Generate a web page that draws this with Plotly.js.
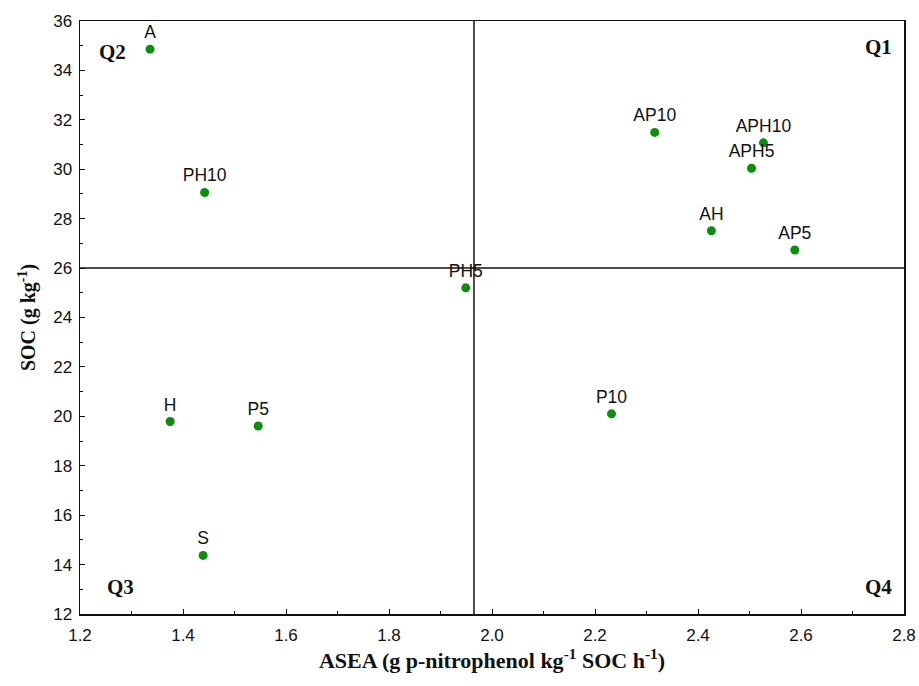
<!DOCTYPE html>
<html><head><meta charset="utf-8">
<script src="https://cdn.plot.ly/plotly-3.0.1.min.js"></script>
<style>body{margin:0;background:#fff}#chart{width:919px;height:686px}</style>
</head><body><div id="chart"></div>
<script>
const labels = ["A","PH10","AP10","APH10","APH5","AH","AP5","PH5","P10","H","P5","S"];
const asea   = [1.336,1.442,2.316,2.527,2.504,2.426,2.588,1.949,2.232,1.375,1.546,1.439];
const soc    = [34.86,29.06,31.49,31.07,30.04,27.51,26.73,25.20,20.10,19.79,19.61,14.37];
const dividerX = 1.965;
const dividerY = 26;
const quadrants = [
  {text:"Q1", x:2.75, y:34.95},
  {text:"Q2", x:1.263, y:34.75},
  {text:"Q3", x:1.278, y:13.1},
  {text:"Q4", x:2.75, y:13.1}
];
const serif = "'Liberation Serif','Times New Roman',serif";
const sans = "'Liberation Sans',Arial,sans-serif";
const trace = {
  x: asea, y: soc, text: labels, mode: "markers+text", type: "scatter",
  textposition: "top center",
  textfont: {family: sans, size: 17.5, color: "#111"},
  marker: {color: "#0b8f0b", size: 9},
  cliponaxis: false, hoverinfo: "none"
};
const layout = {
  width: 919, height: 686,
  margin: {l: 80, r: 15, t: 21, b: 72},
  paper_bgcolor: "#fff", plot_bgcolor: "#fff",
  showlegend: false,
  font: {family: sans, color: "#111"},
  xaxis: {
    range: [1.2, 2.8], dtick: 0.2, tickformat: ".1f",
    showgrid: false, zeroline: false,
    showline: true, linecolor: "#111", linewidth: 1.5, mirror: true,
    ticks: "inside", ticklen: 5, tickcolor: "#111",
    minor: {dtick: 0.1, ticks: "inside", ticklen: 3, tickcolor: "#111"},
    ticklabelstandoff: 5,
    tickfont: {family: sans, size: 17, color: "#111"},
    title: {text: "ASEA (g p-nitrophenol kg<sup>-1</sup> SOC h<sup>-1</sup>)",
            font: {family: serif, size: 22, color: "#111", weight: "bold"}, standoff: 8}
  },
  yaxis: {
    range: [12, 36], dtick: 2,
    showgrid: false, zeroline: false,
    showline: true, linecolor: "#111", linewidth: 1.5, mirror: true,
    ticks: "inside", ticklen: 5, tickcolor: "#111",
    minor: {dtick: 1, ticks: "inside", ticklen: 3, tickcolor: "#111"},
    ticklabelstandoff: 3,
    tickfont: {family: sans, size: 17, color: "#111"},
    title: {text: "SOC (g kg<sup>-1</sup>)",
            font: {family: serif, size: 20, color: "#111", weight: "bold"}, standoff: 12}
  },
  shapes: [
    {type: "line", xref: "x", yref: "paper", x0: dividerX, x1: dividerX, y0: 0, y1: 1,
     line: {color: "#111", width: 1.5}},
    {type: "line", xref: "paper", yref: "y", x0: 0, x1: 1, y0: dividerY, y1: dividerY,
     line: {color: "#111", width: 1.5}}
  ],
  annotations: quadrants.map(q => ({
    x: q.x, y: q.y, xref: "x", yref: "y", text: "<b>" + q.text + "</b>", showarrow: false,
    font: {family: serif, size: 21, color: "#111"}
  }))
};
Plotly.newPlot("chart", [trace], layout, {staticPlot: true});
</script></body></html>
